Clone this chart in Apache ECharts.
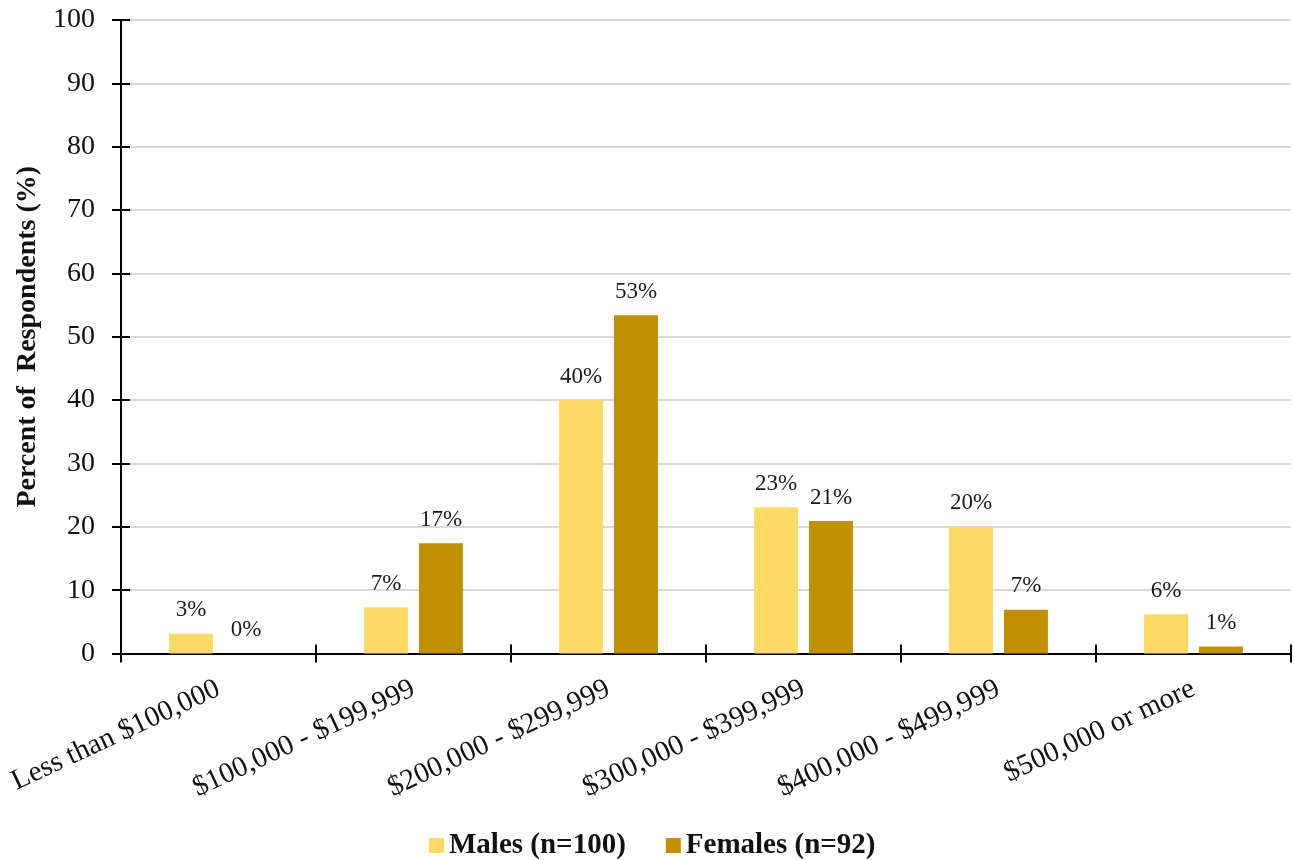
<!DOCTYPE html>
<html>
<head>
<meta charset="utf-8">
<title>Home value by respondent gender</title>
<script src="https://cdn.jsdelivr.net/npm/echarts@6/dist/echarts.min.js"></script>
<style>
  html, body { margin: 0; padding: 0; background: #ffffff; }
  #chart { width: 1294px; height: 860px; }
</style>
</head>
<body>
<div id="chart"></div>
<script>
// Price bands shown along the horizontal axis
const categories = [
  'Less than $100,000',
  '$100,000 - $199,999',
  '$200,000 - $299,999',
  '$300,000 - $399,999',
  '$400,000 - $499,999',
  '$500,000 or more'
];

// Share of respondents in each band (%)
const malesValues = [3.1, 7.3, 40.0, 23.1, 20.0, 6.2];
const femalesValues = [0.0, 17.4, 53.4, 20.9, 6.9, 1.1];

// Series names as shown in the legend
const seriesNames = ['Males (n=100)', 'Females (n=92)'];

const FONT = '"Liberation Serif", "Times New Roman", serif';
const MALE_COLOR = '#FFD966';
const FEMALE_COLOR = '#BF9000';

const chart = echarts.init(document.getElementById('chart'), null, { renderer: 'canvas' });

const barLabel = {
  show: true,
  position: 'top',
  distance: 12,
  color: '#1a1a1a',
  fontFamily: FONT,
  fontSize: 23,
  formatter: p => Math.round(p.value) + '%'
};

chart.setOption({
  animation: false,
  backgroundColor: '#ffffff',
  textStyle: { fontFamily: FONT },
  grid: {
    left: 121, right: 3, top: 20, bottom: 206.5,
    containLabel: false,
    outerBoundsMode: 'none'
  },
  legend: {
    data: seriesNames,
    left: 429,
    top: 831,
    padding: 0,
    icon: 'rect',
    itemWidth: 15,
    itemHeight: 15,
    itemGap: 40,
    textStyle: { fontFamily: FONT, fontSize: 29, fontWeight: 'bold', color: '#111111' }
  },
  xAxis: [
    {
      type: 'category',
      data: categories,
      axisLine: { show: true, lineStyle: { color: '#000000', width: 2 } },
      axisTick: { show: true, alignWithLabel: false, length: 9, lineStyle: { color: '#000000', width: 2 } },
      axisLabel: {
        interval: 0,
        rotate: 25,
        margin: 34,
        fontFamily: FONT,
        fontSize: 29,
        color: '#111111'
      },
      splitLine: { show: false }
    },
    {
      // inner half of the crossing ticks on the category axis
      type: 'category',
      data: categories,
      position: 'bottom',
      axisLine: { show: false },
      axisTick: { show: true, inside: true, length: 9, lineStyle: { color: '#000000', width: 2 } },
      axisLabel: { show: false },
      splitLine: { show: false }
    }
  ],
  yAxis: [
    {
      type: 'value',
      min: 0,
      max: 100,
      interval: 10,
      name: 'Percent of  Respondents (%)',
      nameLocation: 'middle',
      nameGap: 75,
      nameTextStyle: { fontFamily: FONT, fontSize: 28, fontWeight: 'bold', color: '#111111' },
      axisLine: { show: true, lineStyle: { color: '#000000', width: 2 } },
      axisTick: { show: true, length: 9, lineStyle: { color: '#000000', width: 2 } },
      axisLabel: { margin: 26, fontFamily: FONT, fontSize: 28, color: '#111111' },
      splitLine: { show: true, lineStyle: { color: '#d9d9d9', width: 2 } }
    },
    {
      // inner half of the crossing ticks on the value axis
      type: 'value',
      min: 0,
      max: 100,
      interval: 10,
      position: 'left',
      axisLine: { show: false },
      axisTick: { show: true, inside: true, length: 9, lineStyle: { color: '#000000', width: 2 } },
      axisLabel: { show: false },
      splitLine: { show: false }
    }
  ],
  series: [
    {
      name: seriesNames[0],
      type: 'bar',
      xAxisIndex: 0,
      yAxisIndex: 0,
      data: malesValues,
      barGap: '25%',
      barCategoryGap: '49.3%',
      itemStyle: { color: MALE_COLOR },
      label: barLabel,
      z: 1
    },
    {
      name: seriesNames[1],
      type: 'bar',
      xAxisIndex: 0,
      yAxisIndex: 0,
      data: femalesValues,
      barGap: '25%',
      barCategoryGap: '49.3%',
      itemStyle: { color: FEMALE_COLOR },
      label: barLabel,
      z: 1
    }
  ]
});
</script>
</body>
</html>
